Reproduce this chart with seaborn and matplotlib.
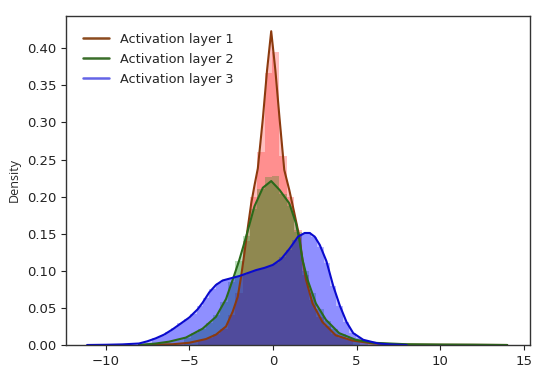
import numpy as np
import pandas as pd
import matplotlib
matplotlib.use("Agg")
import matplotlib.pyplot as plt
import seaborn as sns

# ---- data ----
labels = ["Activation layer 1", "Activation layer 2", "Activation layer 3"]

# KDE curves (x, density)
kde1_x = [-8, -6, -5, -4, -3.4, -2.8, -2.4, -2.1, -1.9, -1.7, -1.5, -1.3, -1.1, -0.9, -0.6,
          -0.35, -0.1, 0.15, 0.4, 0.68, 0.98, 1.28, 1.58, 1.77, 1.98, 2.37, 2.96, 3.76, 4.75,
          6, 8, 10, 12, 14]
kde1_y = [0, 0.001, 0.003, 0.008, 0.014, 0.025, 0.045, 0.065, 0.092, 0.124, 0.158, 0.19,
          0.215, 0.238, 0.305, 0.37, 0.423, 0.37, 0.305, 0.236, 0.209, 0.178, 0.146, 0.115,
          0.088, 0.056, 0.031, 0.013, 0.006, 0.002, 0.0005, 0.0003, 0.0002, 0]

kde2_x = [-8, -7, -6.2, -5.2, -4.2, -3.4, -2.8, -2.4, -2.0, -1.6, -1.1, -0.6, -0.1, 0.4,
          0.98, 1.38, 1.58, 1.77, 2.07, 2.57, 3.17, 3.96, 4.95, 6, 8, 10, 12, 14]
kde2_y = [0, 0.002, 0.0045, 0.01, 0.022, 0.038, 0.062, 0.088, 0.115, 0.146, 0.187, 0.212,
          0.221, 0.209, 0.191, 0.164, 0.142, 0.115, 0.088, 0.056, 0.034, 0.016, 0.007, 0.003,
          0.001, 0.0006, 0.0004, 0]

kde3_x = [-11.1, -10, -9, -8, -7.5, -7, -6.5, -6, -5.5, -5, -4.5, -4.2, -3.8, -3.4, -3.0,
          -2.5, -2.0, -1.5, -1.0, -0.5, 0, 0.5, 1.0, 1.5, 1.9, 2.2, 2.5, 2.8, 3.2, 3.6, 4.0,
          4.4, 4.8, 5.4, 6.3, 7, 8]
kde3_y = [0, 0.0003, 0.0008, 0.002, 0.005, 0.009, 0.014, 0.021, 0.029, 0.037, 0.048, 0.057,
          0.071, 0.081, 0.087, 0.090, 0.093, 0.097, 0.101, 0.104, 0.108, 0.116, 0.13, 0.146,
          0.151, 0.151, 0.146, 0.135, 0.113, 0.08, 0.053, 0.031, 0.016, 0.007, 0.002, 0.0008, 0]

# Histogram bins (edges) and bar heights
hist1_edges = [-4.45, -4.01, -3.57, -3.13, -2.69, -2.25, -1.81, -1.37, -0.93, -0.49, -0.05,
               0.39, 0.83, 1.27, 1.71, 2.15, 2.59, 3.03, 3.47, 3.91, 4.35, 4.79]
hist1_h = [0.007, 0.01, 0.015, 0.022, 0.04, 0.07, 0.14, 0.2, 0.26, 0.367, 0.395, 0.255,
           0.2, 0.155, 0.095, 0.06, 0.038, 0.025, 0.015, 0.01, 0.007]

hist2_edges = [-5.33, -4.89, -4.45, -4.01, -3.57, -3.13, -2.69, -2.25, -1.81, -1.37, -0.93,
               -0.49, -0.05, 0.39, 0.83, 1.27, 1.71, 2.15, 2.59, 3.03, 3.47, 3.91, 4.35,
               4.79, 5.23]
hist2_h = [0.01, 0.016, 0.022, 0.03, 0.04, 0.058, 0.085, 0.113, 0.147, 0.184, 0.21, 0.226,
           0.228, 0.203, 0.187, 0.152, 0.1, 0.07, 0.048, 0.032, 0.022, 0.015, 0.01, 0.007]

hist3_edges = [-7.22, -6.84, -6.46, -6.08, -5.70, -5.32, -4.94, -4.56, -4.18, -3.80, -3.42,
               -3.04, -2.66, -2.28, -1.90, -1.52, -1.14, -0.76, -0.38, 0.0, 0.38, 0.76,
               1.14, 1.52, 1.90, 2.28, 2.66, 3.04, 3.42, 3.80, 4.18, 4.56, 4.94, 5.32, 5.70]
hist3_h = [0.009, 0.012, 0.018, 0.023, 0.029, 0.035, 0.042, 0.052, 0.064, 0.076, 0.084,
           0.088, 0.09, 0.092, 0.095, 0.098, 0.101, 0.104, 0.107, 0.111, 0.118, 0.128,
           0.142, 0.15, 0.152, 0.146, 0.132, 0.11, 0.08, 0.052, 0.031, 0.016, 0.009, 0.005]

fill_colors = ["red", "green", "blue"]
line_colors = ["#8B3A0E", "#2A6A1A", "#0A0ACD"]
legend_colors = ["#8B4A1E", "#3A6E2A", "#6464E6"]

# ---- plotting ----
sns.set_style("ticks")
plt.rcParams["font.family"] = ["DejaVu Sans"]

fig = plt.figure(figsize=(5.5, 3.81), dpi=100)
ax = fig.add_axes([0.12, 0.0945, 0.8436, 0.8635])

kdes = [(kde1_x, kde1_y), (kde2_x, kde2_y), (kde3_x, kde3_y)]
hists = [(hist1_edges, hist1_h), (hist2_edges, hist2_h), (hist3_edges, hist3_h)]

for (edges, h), (kx, ky), fc, lc in zip(hists, kdes, fill_colors, line_colors):
    e = np.array(edges, dtype=float)
    centers = (e[:-1] + e[1:]) / 2
    hdf = pd.DataFrame({"value": centers, "height": h})
    sns.histplot(data=hdf, x="value", weights="height", bins=list(edges), stat="count",
                 color=fc, alpha=0.25, linewidth=0, ax=ax)
    ax.fill_between(kx, ky, color=fc, alpha=0.25, linewidth=0)
    kdf = pd.DataFrame({"x": kx, "y": ky})
    sns.lineplot(data=kdf, x="x", y="y", color=lc, linewidth=1.5, ax=ax, sort=False)

ax.set_xlim(-12.36, 15.36)
ax.set_ylim(0, 0.4435)
ax.set_xticks([-10, -5, 0, 5, 10, 15])
yt = [0, 0.05, 0.10, 0.15, 0.20, 0.25, 0.30, 0.35, 0.40]
ax.set_yticks(yt)
ax.set_yticklabels([f"{v:.2f}" for v in yt])
ax.tick_params(labelsize=9.5, colors="#222222")
ax.set_ylabel("Density", fontsize=9, family=["Open Sans", "DejaVu Sans"])
ax.set_xlabel("")
for s in ax.spines.values():
    s.set_color("#333333")
    s.set_linewidth(1.0)

handles = [matplotlib.lines.Line2D([], [], color=c, linewidth=1.8) for c in legend_colors]
ax.legend(handles, labels, loc="upper left", frameon=False, fontsize=9.3,
          handlelength=2.0, borderaxespad=0.9, labelspacing=0.55, handletextpad=0.9)

fig.savefig("out.png", dpi=100)
